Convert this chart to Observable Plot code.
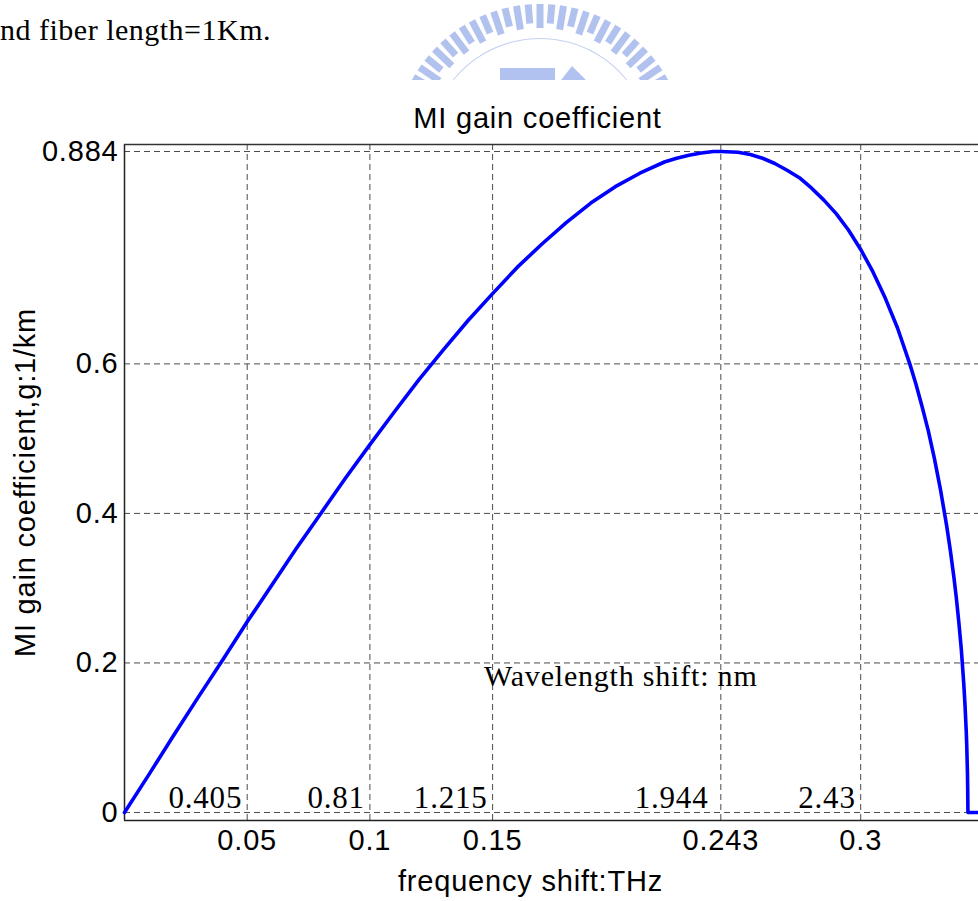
<!DOCTYPE html>
<html>
<head>
<meta charset="utf-8">
<script src="https://cdn.jsdelivr.net/npm/d3@7"></script>
<script src="https://cdn.jsdelivr.net/npm/@observablehq/plot@0.6"></script>
<style>
  html, body { margin: 0; padding: 0; background: #fff; overflow: hidden; }
  #wrap { position: relative; width: 978px; height: 901px; }
  #chart { position: absolute; left: 0; top: 0; }
  #note { position: absolute; left: 0px; top: 13px; font-family: "Liberation Serif", "Times New Roman", serif; font-size: 30px; color: #000; letter-spacing: 0.5px; white-space: nowrap; }
  #logo { position: absolute; left: 0; top: 0; }
</style>
</head>
<body>
<div id="wrap">
  <div id="chart"></div>
  <svg id="logo" width="978" height="84"></svg>
  <div id="note">nd fiber length=1Km.</div>
</div>
<script>
// ---- data ----
const freq = [0, 0.01, 0.02, 0.03, 0.04, 0.05, 0.06, 0.07, 0.08, 0.09, 0.10, 0.11, 0.12, 0.13, 0.14, 0.15, 0.16, 0.17, 0.18, 0.19, 0.20, 0.21, 0.22, 0.225, 0.23, 0.235, 0.24, 0.243, 0.25, 0.255, 0.26, 0.265, 0.27, 0.275, 0.28, 0.285, 0.29, 0.295, 0.30, 0.305, 0.31, 0.315, 0.32, 0.3225, 0.325, 0.3275, 0.33, 0.3325, 0.335, 0.3365, 0.338, 0.339, 0.34, 0.341, 0.342, 0.3425, 0.343, 0.3432, 0.3435, 0.3436, 0.3437, 0.346, 0.348];
const gain = [0, 0.051, 0.103, 0.154, 0.204, 0.255, 0.304, 0.353, 0.400, 0.447, 0.492, 0.536, 0.579, 0.619, 0.658, 0.694, 0.729, 0.760, 0.789, 0.815, 0.837, 0.855, 0.870, 0.875, 0.879, 0.882, 0.884, 0.884, 0.883, 0.880, 0.875, 0.868, 0.859, 0.849, 0.835, 0.819, 0.801, 0.779, 0.753, 0.723, 0.688, 0.648, 0.600, 0.573, 0.543, 0.511, 0.474, 0.432, 0.384, 0.351, 0.314, 0.286, 0.254, 0.218, 0.172, 0.144, 0.109, 0.091, 0.053, 0.031, 0, 0, 0];

const xTicks = [0.05, 0.1, 0.15, 0.243, 0.3];
const xTickLabels = ["0.05", "0.1", "0.15", "0.243", "0.3"];
const yTicks = [0, 0.2, 0.4, 0.6, 0.884];
const yTickLabels = ["0", "0.2", "0.4", "0.6", "0.884"];

// wavelength shift (nm) labels, placed at their frequency shift (THz)
const wlFreq = [0.05, 0.1, 0.15, 0.24, 0.3];
const wlLabels = ["0.405", "0.81", "1.215", "1.944", "2.43"];

const titleText = "MI gain coefficient";
const xLabel = "frequency shift:THz";
const yLabel = "MI gain coefficient,g:1/km";
const wlTitle = "Wavelength shift: nm";
const wlTitlePos = {f: 0.1465, g: 0.172};

// ---- build ----
const curve = freq.map((f, i) => ({f, g: gain[i]}));
const wl = wlFreq.map((f, i) => ({f, label: wlLabels[i]}));
const xt = xTicks.map((t, i) => ({t, label: xTickLabels[i]}));
const yt = yTicks.map((t, i) => ({t, label: yTickLabels[i]}));

const yMin = -0.0107, yMax = 0.8934;
const grid = {stroke: "#4a4a4a", strokeOpacity: 1, strokeWidth: 1, strokeDasharray: "6,4"};
const serif = "'Liberation Serif', 'Times New Roman', serif";
const fs = 29;

const chart = Plot.plot({
  width: 978,
  height: 901,
  marginLeft: 124,
  marginRight: 0,
  marginTop: 144,
  marginBottom: 81,
  style: {fontFamily: "'Liberation Sans', Arial, sans-serif", fontSize: "29px", color: "#000", background: "transparent", overflow: "visible", letterSpacing: "0.8px"},
  x: {domain: [0, 0.348], label: null, axis: null},
  y: {domain: [yMin, yMax], label: null, axis: null},
  marks: [
    Plot.ruleX(xTicks, grid),
    Plot.ruleY(yTicks, grid),
    Plot.ruleX([0], {stroke: "#222", strokeWidth: 1.5}),
    Plot.ruleY([yMin], {stroke: "#222", strokeWidth: 1.5}),
    Plot.ruleY([yMax], {stroke: "#333", strokeWidth: 1.5}),
    // tick labels
    Plot.text(xt, {x: "t", y: yMin, text: "label", lineAnchor: "top", dy: 9, fontSize: fs, fill: "#000"}),
    Plot.text(yt, {x: 0, y: "t", text: "label", textAnchor: "end", dx: -6, fontSize: fs, fill: "#000"}),
    Plot.line(curve, {x: "f", y: "g", stroke: "#0000ff", strokeWidth: 3.6, curve: "linear"}),
    Plot.text(wl, {x: "f", y: 0, text: "label", textAnchor: "end", lineAnchor: "bottom", dx: -5, dy: -4, fontFamily: serif, fontSize: 31, fill: "#000", letterSpacing: "0.3px"}),
    Plot.text([wlTitlePos], {x: "f", y: "g", text: () => wlTitle, textAnchor: "start", lineAnchor: "bottom", dy: 2, fontFamily: serif, fontSize: 30, fill: "#000", letterSpacing: "0.4px"}),
    Plot.text([titleText], {frameAnchor: "top", text: d => d, dx: -14, dy: -17, lineAnchor: "bottom", fontSize: fs, fill: "#000"}),
    Plot.text([xLabel], {frameAnchor: "bottom", text: d => d, dx: -21, dy: 50, lineAnchor: "top", fontSize: fs, fill: "#000"}),
    Plot.text([yLabel], {frameAnchor: "left", text: d => d, textAnchor: "middle", dx: -99, rotate: -90, fontSize: fs, fill: "#000"})
  ]
});
document.getElementById("chart").appendChild(chart);

// ---- faint decorative watermark (logo) at the top ----
const logo = d3.select("#logo");
const cx = 540, cy = 150, rOut = 146;
const nT = 29;
const a0 = Math.PI * 1.14, a1 = Math.PI * 1.86;
for (let i = 0; i < nT; i++) {
  const a = a0 + (a1 - a0) * i / (nT - 1);
  const len = i % 2 === 0 ? 24 : 19;
  const r2 = rOut - len;
  logo.append("line")
    .attr("x1", cx + rOut * Math.cos(a)).attr("y1", cy + rOut * Math.sin(a))
    .attr("x2", cx + r2 * Math.cos(a)).attr("y2", cy + r2 * Math.sin(a))
    .attr("stroke", "#9fb3ec").attr("stroke-width", 7).attr("stroke-linecap", "butt").attr("opacity", 0.8);
}
const arc = d3.arc().innerRadius(111).outerRadius(112).startAngle(-1.05).endAngle(1.05);
logo.append("path").attr("d", arc()).attr("transform", `translate(${cx},${cy})`).attr("fill", "#c6d2f2");
logo.append("rect").attr("x", 500).attr("y", 68).attr("width", 55).attr("height", 16).attr("fill", "#9fb3ec").attr("opacity", 0.8);
logo.append("path").attr("d", "M558,84 L572,66 L590,84 Z").attr("fill", "#9fb3ec").attr("opacity", 0.8);
logo.append("rect").attr("x", 0).attr("y", 80).attr("width", 978).attr("height", 4).attr("fill", "#fff");
</script>
</body>
</html>
